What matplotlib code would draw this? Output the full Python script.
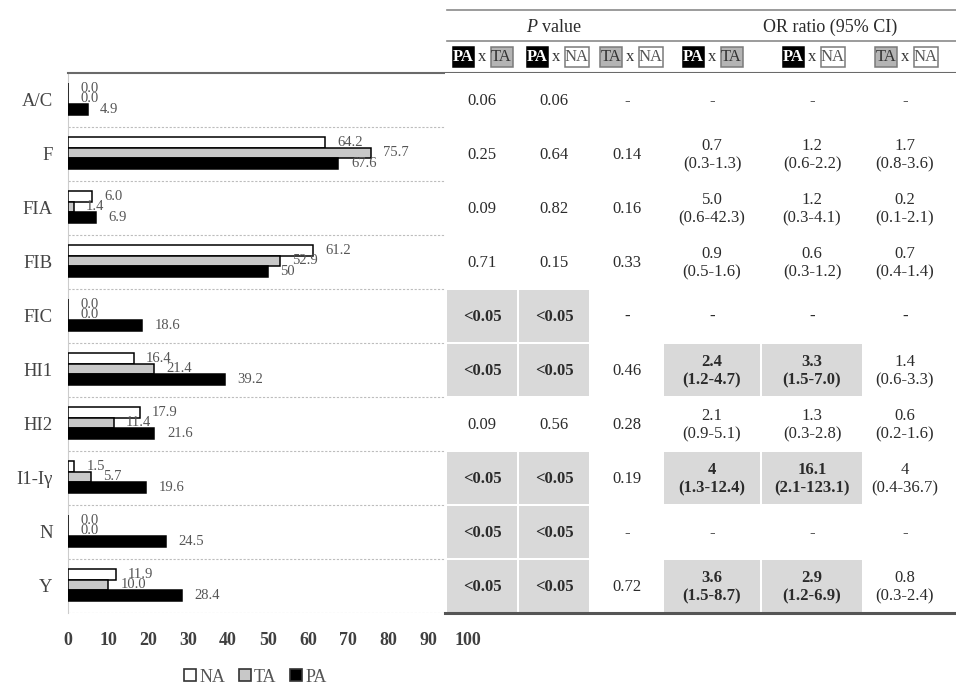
import numpy as np
import matplotlib
matplotlib.use("Agg")
import matplotlib.pyplot as plt
from matplotlib.patches import Rectangle
from matplotlib.lines import Line2D

plt.rcParams['font.family'] = ['Liberation Serif', 'DejaVu Serif']
plt.rcParams['mathtext.fontset'] = 'custom'
plt.rcParams['mathtext.rm'] = 'Liberation Serif'
plt.rcParams['mathtext.it'] = 'Liberation Serif:italic'
plt.rcParams['mathtext.bf'] = 'Liberation Serif:bold'

# ---- data -------------------------------------------------------------
categories = ['A/C', 'F', 'FIA', 'FIB', 'FIC', 'HI1', 'HI2', 'I1-Iγ', 'N', 'Y']
na = [0.0, 64.2, 6.0, 61.2, 0.0, 16.4, 17.9, 1.5, 0.0, 11.9]
ta = [0.0, 75.7, 1.4, 52.9, 0.0, 21.4, 11.4, 5.7, 0.0, 10.0]
pa = [4.9, 67.6, 6.9, 50, 18.6, 39.2, 21.6, 19.6, 24.5, 28.4]
series_names = ['NA', 'TA', 'PA']
x_ticks = list(range(0, 101, 10))

p_pa_ta = ['0.06', '0.25', '0.09', '0.71', '<0.05', '<0.05', '0.09', '<0.05', '<0.05', '<0.05']
p_pa_na = ['0.06', '0.64', '0.82', '0.15', '<0.05', '<0.05', '0.56', '<0.05', '<0.05', '<0.05']
p_ta_na = ['-', '0.14', '0.16', '0.33', '-', '0.46', '0.28', '0.19', '-', '0.72']
or_pa_ta = ['-', '0.7\n(0.3-1.3)', '5.0\n(0.6-42.3)', '0.9\n(0.5-1.6)', '-',
            '2.4\n(1.2-4.7)', '2.1\n(0.9-5.1)', '4\n(1.3-12.4)', '-', '3.6\n(1.5-8.7)']
or_pa_na = ['-', '1.2\n(0.6-2.2)', '1.2\n(0.3-4.1)', '0.6\n(0.3-1.2)', '-',
            '3.3\n(1.5-7.0)', '1.3\n(0.3-2.8)', '16.1\n(2.1-123.1)', '-', '2.9\n(1.2-6.9)']
or_ta_na = ['-', '1.7\n(0.8-3.6)', '0.2\n(0.1-2.1)', '0.7\n(0.4-1.4)', '-',
            '1.4\n(0.6-3.3)', '0.6\n(0.2-1.6)', '4\n(0.4-36.7)', '-', '0.8\n(0.3-2.4)']
table_columns = [p_pa_ta, p_pa_na, p_ta_na, or_pa_ta, or_pa_na, or_ta_na]
column_pairs = [('PA', 'TA'), ('PA', 'NA'), ('TA', 'NA'),
                ('PA', 'TA'), ('PA', 'NA'), ('TA', 'NA')]


def fmt(v):
    return f"{v}" if isinstance(v, int) else f"{v:.1f}"


def significant(cell):
    if cell.startswith('<'):
        return True
    if '\n' in cell:
        lo, hi = cell.split('\n')[1].strip('()').split('-')
        return float(lo) > 1 or float(hi) < 1
    return False


# ---- layout helpers (pixel based) ---------------------------------------
W, H = 956, 687
TOP, BOTTOM, ROW = 73, 613, 54.0


def fx(px):
    return px / W


def fy(py):
    return 1 - py / H


def row_y(py):
    return (py - TOP) / ROW - 0.5


fig = plt.figure(figsize=(W / 100, H / 100), dpi=100)

# ---- bar chart ---------------------------------------------------------
ax = fig.add_axes([fx(68), fy(BOTTOM), fx(468) - fx(68), fy(TOP) - fy(BOTTOM)])
ax.set_xlim(0, 100)
ax.set_ylim(len(categories) - 0.5, -0.5)

y = np.arange(len(categories))
bh = 0.2
styles = [('white', -0.22), ('#c8c8c8', -0.02), ('black', 0.18)]
for vals, (col, off) in zip([na, ta, pa], styles):
    ax.barh(y + off, vals, height=bh, color=col, edgecolor='black',
            linewidth=1.1, zorder=3)
    for yi, v in zip(y, vals):
        ax.annotate(fmt(v), xy=(v, yi + off), xytext=(9, 0),
                    textcoords='offset points', ha='left', va='center',
                    fontsize=10.5, color='#555555', zorder=4)

for k in range(1, len(categories) + 1):
    ax.axhline(k - 0.5, color='#bdbdbd', ls=(0, (2, 1.5)), lw=0.8, zorder=1)

for s in ['top', 'right', 'bottom']:
    ax.spines[s].set_visible(False)
ax.spines['left'].set_color('#cccccc')
ax.set_xticks(x_ticks, labels=[str(t) for t in x_ticks], fontweight='bold')
ax.set_yticks(y, labels=categories)
ax.tick_params(axis='x', length=0, pad=14, labelsize=13, labelcolor='#404040')
ax.tick_params(axis='y', length=0, pad=11, labelsize=13.5, labelcolor='#444444')

# ---- statistics table --------------------------------------------------
tab = fig.add_axes([fx(445), fy(BOTTOM), fx(956) - fx(445), fy(TOP) - fy(BOTTOM)])
tab.set_zorder(3)
tab.set_facecolor('white')
tab.set_xlim(445, 956)
tab.set_ylim(len(categories) - 0.5, -0.5)
for s in tab.spines.values():
    s.set_visible(False)
tab.set_xticks([])
tab.set_yticks([])

centers = [482, 554, 627, 712, 812, 905]
cell_bounds = [(447, 517), (519, 589), (591, 661), (664, 760), (762, 862), (864, 954)]
gap = 1.0 / ROW
for ci, (cells, (x0, x1)) in enumerate(zip(table_columns, cell_bounds)):
    for ri, cell in enumerate(cells):
        sig = significant(cell)
        if sig:
            tab.add_patch(Rectangle((x0, ri - 0.5 + gap), x1 - x0, 1 - 2 * gap,
                                    facecolor='#d9d9d9', edgecolor='none', zorder=1))
        tab.text(centers[ci], ri + 0.02, cell, ha='center', va='center',
                 fontsize=12, color='#2b2b2b', linespacing=1.15,
                 fontweight='bold' if (sig or (cell == '-' and ri == 4)) else 'normal',
                 zorder=2)

# header rules
for py in (10, 41):
    tab.plot([447, 956], [row_y(py)] * 2, color='#8a8a8a', lw=1.2, clip_on=False)
fig.add_artist(Line2D([fx(68), 1], [fy(TOP)] * 2, color='#6a6a6a', lw=1.5,
                      transform=fig.transFigure))
tab.plot([445, 956], [row_y(BOTTOM)] * 2, color='#555555', lw=2.2, clip_on=False)

tab.text(554, row_y(27), '$P$ value', ha='center', va='center',
         fontsize=13, color='#2b2b2b', clip_on=False)
tab.text(830, row_y(27), 'OR ratio (95% CI)', ha='center', va='center',
         fontsize=13, color='#2b2b2b', clip_on=False)

# group badges in the sub-header
badge = {
    'PA': dict(color='white', weight='bold', fc='black', ec='black', w=21),
    'TA': dict(color='#333333', weight='normal', fc='#b4b4b4', ec='#7a7a7a', w=22),
    'NA': dict(color='#555555', weight='normal', fc='white', ec='#7a7a7a', w=24),
}
group_centers = [482, 556, 630, 712, 812, 905]
b_top, b_h = row_y(47), 20 / ROW
yy = row_y(57)
for c, (a, b) in zip(group_centers, column_pairs):
    tab.text(c, yy, 'x', ha='center', va='center', fontsize=12,
             color='#333333', clip_on=False)
    for name, side in [(a, -1), (b, 1)]:
        st = badge[name]
        x0 = c - 8 - st['w'] if side < 0 else c + 8.5
        tab.add_patch(Rectangle((x0, b_top), st['w'], b_h, facecolor=st['fc'],
                                edgecolor=st['ec'], lw=1.1, clip_on=False, zorder=2))
        tab.text(x0 + st['w'] / 2, yy, name, ha='center', va='center',
                 fontsize=12, color=st['color'], fontweight=st['weight'],
                 clip_on=False, zorder=3)

# ---- legend -------------------------------------------------------------
handles = [Line2D([], [], marker='s', ls='', mfc=c, mec='#333333', ms=9, mew=1.2)
           for c in ['white', '#c8c8c8', 'black']]
fig.legend(handles, series_names, loc='center', bbox_to_anchor=(fx(254), fy(677)),
           ncol=3, frameon=False, fontsize=13, handletextpad=0.0,
           columnspacing=0.6, handlelength=1.0, labelcolor='#555555')

fig.savefig('out.png', dpi=100, facecolor='white')
